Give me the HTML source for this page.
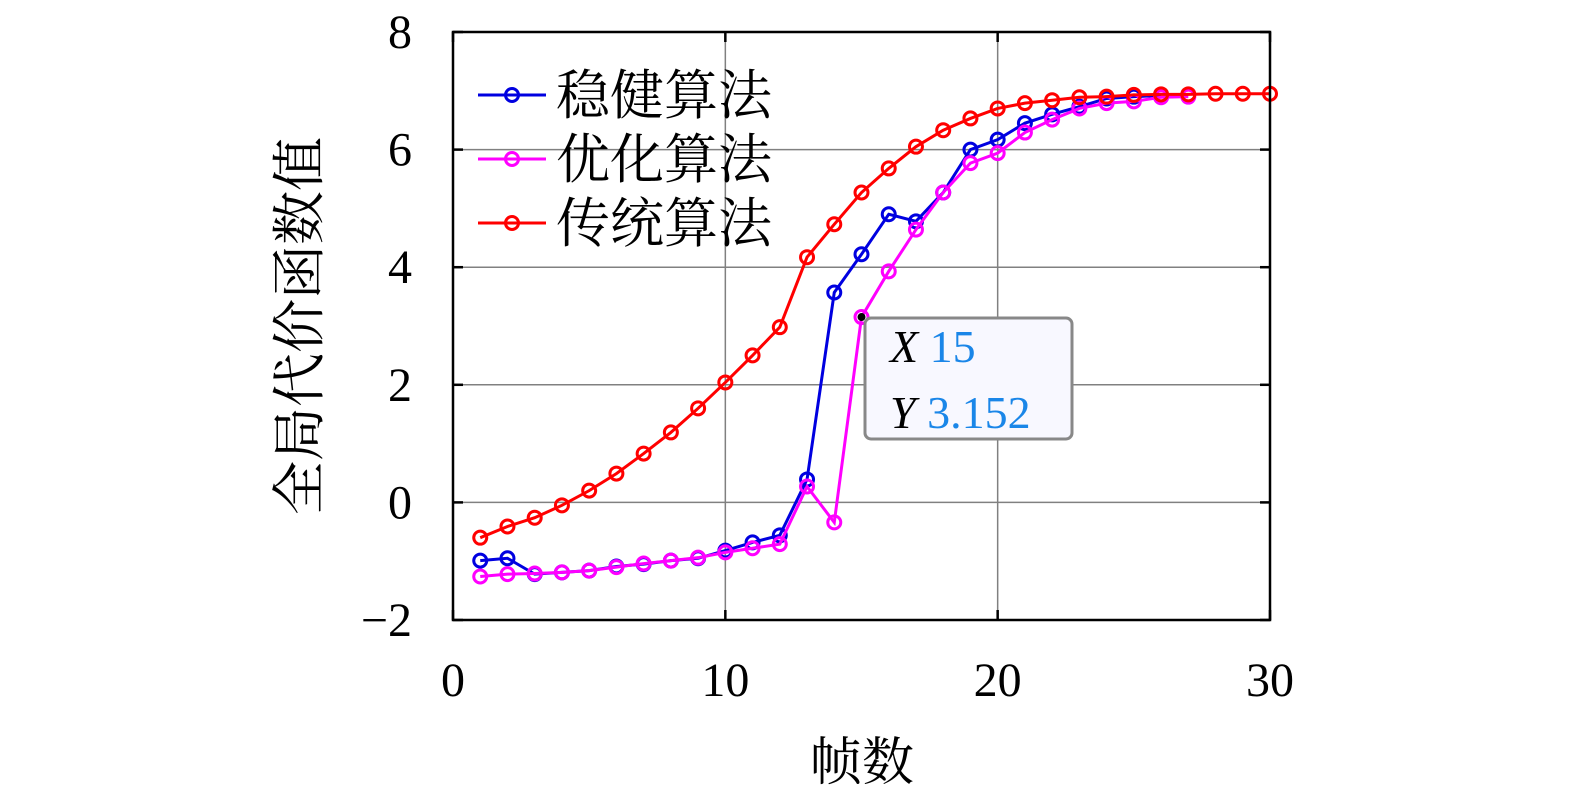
<!DOCTYPE html>
<html><head><meta charset="utf-8"><style>
body{margin:0;background:#fff}
svg text{font-family:"Liberation Serif","Noto Serif CJK SC",serif}
</style></head><body>
<svg id="chart" width="1575" height="793" xmlns="http://www.w3.org/2000/svg">
<g id="grid"></g>
<g id="series"></g>
<rect x="453" y="32" width="817" height="588" fill="none" stroke="#000" stroke-width="2.5"/>
<g id="ticks"></g>
<text x="862" y="780" font-size="52" text-anchor="middle">帧数</text>
<text transform="translate(318,326) rotate(-90)" font-size="54" text-anchor="middle">全局代价函数值</text>
<g id="legend"></g>
<g>
<rect x="865" y="318" width="207" height="121" rx="6" fill="#f8f8ff" stroke="#888" stroke-width="3"/>
<text x="890" y="362" font-size="46" font-style="italic">X <tspan font-style="normal" fill="#1a86e8">15</tspan></text>
<text x="890" y="428" font-size="46" font-style="italic">Y <tspan font-style="normal" fill="#1a86e8">3.152</tspan></text>
</g>
</svg>
<script>
const robust=[-0.99,-0.95,-1.22,-1.19,-1.16,-1.09,-1.05,-0.99,-0.95,-0.82,-0.68,-0.56,0.39,3.57,4.22,4.9,4.78,5.27,6.0,6.17,6.45,6.6,6.73,6.87,6.9,6.92];
const optimized=[-1.26,-1.22,-1.21,-1.19,-1.16,-1.1,-1.04,-0.99,-0.94,-0.85,-0.78,-0.71,0.27,-0.34,3.152,3.93,4.64,5.27,5.77,5.94,6.29,6.51,6.7,6.79,6.82,6.89,6.9];
const traditional=[-0.6,-0.41,-0.26,-0.05,0.2,0.49,0.83,1.19,1.6,2.04,2.5,2.98,4.17,4.73,5.27,5.68,6.05,6.33,6.53,6.7,6.79,6.84,6.89,6.9,6.93,6.94,6.94,6.95,6.95,6.95];
const xTicks=[0,10,20,30];
const yTicks=[-2,0,2,4,6,8];
const yTickLabels=["\u22122","0","2","4","6","8"];
const seriesNames=["稳健算法","优化算法","传统算法"];
const NS="http://www.w3.org/2000/svg";
const X=v=>453+v*(817/30), Y=v=>620-(v+2)*58.8;
function mk(t,a,p){const e=document.createElementNS(NS,t);for(const k in a)e.setAttribute(k,a[k]);p.appendChild(e);return e;}
const grid=document.getElementById('grid'),ticks=document.getElementById('ticks');
xTicks.forEach(v=>{
 const l=mk('line',{x1:X(v),x2:X(v),y1:32,y2:620,stroke:'#808080','stroke-width':1.5},grid);
 
 
 const t=mk('text',{x:X(v),y:696,'font-size':48,'text-anchor':'middle'},ticks);t.textContent=v;
 
 
 [[620,610],[32,42]].forEach(([a,b])=>{const m=mk('line',{x1:X(v),x2:X(v),y1:a,y2:b,stroke:'#000','stroke-width':2.5},ticks);
 
 });
});
yTicks.forEach((v,i)=>{
 const l=mk('line',{x1:453,x2:1270,y1:Y(v),y2:Y(v),stroke:'#808080','stroke-width':1.5},grid);
 
 
 const t=mk('text',{x:412,y:Y(v)+16,'font-size':48,'text-anchor':'end'},ticks);t.textContent=yTickLabels[i];
 
 
 [[453,463],[1270,1260]].forEach(([a,b])=>{const m=mk('line',{x1:a,x2:b,y1:Y(v),y2:Y(v),stroke:'#000','stroke-width':2.5},ticks);
 
 });
});
const sg=document.getElementById('series');
const defs=[[robust,'#0000e0','robust'],[optimized,'#ff00ff','optimized'],[traditional,'#ff0000','traditional']];
defs.forEach(([d,c,n])=>{
 const g=mk('g',{},sg);
 
 
 const p=mk('polyline',{points:d.map((v,i)=>X(i+1)+','+Y(v)).join(' '),fill:'none',stroke:c,'stroke-width':3},g);
 
 
 d.forEach((v,i)=>{const m=mk('circle',{cx:X(i+1),cy:Y(v),r:6.5,fill:'none',stroke:c,'stroke-width':3},g);
 
 });
});
const tp=mk('circle',{cx:X(15),cy:Y(3.152),r:4,fill:'#000'},sg);


const lg=document.getElementById('legend');
defs.forEach(([d,c,n],i)=>{
 const y=95+i*64;
 const g=mk('g',{},lg);
 
 
 mk('line',{x1:478,x2:546,y1:y,y2:y,stroke:c,'stroke-width':3},g);
 mk('circle',{cx:512,cy:y,r:6.5,fill:'none',stroke:c,'stroke-width':3},g);
 const t=mk('text',{x:556,y:y+19,'font-size':54},g);t.textContent=seriesNames[i];
});
</script>
</body></html>
